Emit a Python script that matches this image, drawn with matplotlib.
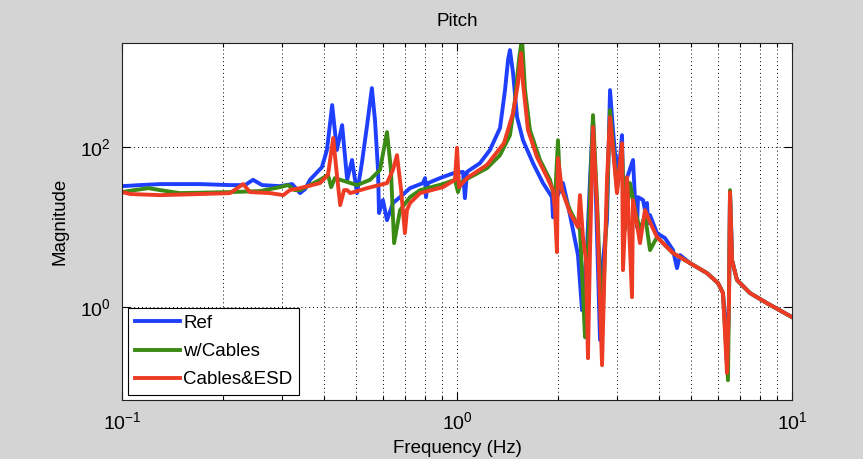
import matplotlib
matplotlib.use("Agg")
import matplotlib.pyplot as plt
from matplotlib.ticker import FixedLocator, LogLocator, NullLocator, NullFormatter

plt.rcParams["font.family"] = ["Liberation Sans", "DejaVu Sans"]

# frequency response magnitudes
ref_freq = [0.100, 0.113, 0.130, 0.171, 0.210, 0.233, 0.246, 0.262, 0.296, 0.322, 0.340, 0.352,
            0.364, 0.395, 0.409, 0.424, 0.438, 0.454, 0.470, 0.486, 0.503, 0.520, 0.539, 0.557,
            0.569, 0.581, 0.585, 0.601, 0.618, 0.644, 0.676, 0.724, 0.792, 0.803, 0.808, 0.819,
            0.890, 0.973, 1.042, 1.056, 1.071, 1.171, 1.254, 1.344, 1.391, 1.420, 1.439, 1.470,
            1.511, 1.574, 1.686, 1.806, 1.921, 1.934, 1.988, 2.072, 2.145, 2.220, 2.297, 2.362,
            2.411, 2.445, 2.495, 2.547, 2.600, 2.673, 2.729, 2.804, 2.863, 2.922, 2.963, 3.045,
            3.109, 3.130, 3.240, 3.353, 3.400, 3.447, 3.470, 3.592, 3.641, 3.692, 3.717, 3.769,
            3.954, 4.178, 4.414, 4.537, 4.632, 4.961, 5.576, 6.014, 6.223, 6.353, 6.397, 6.486,
            6.531, 6.576, 6.622, 6.853, 7.492, 8.423, 10.0]
ref_mag = [32.5, 33.5, 34.5, 34.5, 33.5, 33.5, 39, 33.5, 32.5, 34.5, 26.6, 29.9,
           39, 56, 92, 335, 92, 188, 39, 69, 26.6, 63, 188, 546,
           218, 52, 15.0, 21.8, 12.2, 20.0, 23.7, 30.7, 35.5, 41, 23.7, 35.5,
           41, 47, 49, 23.0, 49, 63, 92, 173, 516, 1223, 1631, 841,
           237, 122, 63, 35.5, 23.7, 13.3, 23.7, 35.5, 18.8, 9.17, 4.47, 0.917,
           2.90, 5.62, 39, 218, 21.8, 0.387, 3.87, 12.2, 516, 163, 84, 52,
           141, 31.6, 45, 69, 21.8, 10.0, 23.7, 21.8, 16.3, 20.0, 11.2, 14.1,
           8.41, 7.29, 5.16, 3.07, 4.47, 3.55, 2.66, 2.0, 1.50, 0.516, 0.188, 1.22,
           27.4, 12.2, 3.87, 2.18, 1.50, 1.12, 0.750]

cab_freq = [0.100, 0.109, 0.120, 0.130, 0.149, 0.210, 0.258, 0.296, 0.313, 0.328, 0.340, 0.390,
            0.412, 0.421, 0.432, 0.503, 0.550, 0.589, 0.618, 0.635, 0.649, 0.676, 0.724, 0.776,
            0.908, 0.986, 1.007, 1.028, 1.229, 1.344, 1.439, 1.490, 1.531, 1.563, 1.596, 1.651,
            1.769, 1.895, 1.961, 2.002, 2.030, 2.175, 2.329, 2.411, 2.460, 2.547, 2.618, 2.710,
            2.804, 2.863, 3.003, 3.109, 3.173, 3.284, 3.400, 3.518, 3.641, 3.769, 3.954, 4.414,
            4.961, 5.576, 6.014, 6.223, 6.44, 6.486, 6.531, 6.622, 6.853, 7.492, 8.423, 10.0]
cab_mag = [27.4, 29.0, 30.7, 29.0, 26.6, 27.4, 28.2, 31.6, 33.5, 29.0, 29.0, 39,
           45, 31.6, 41, 33.5, 39, 52, 154, 52, 6.31, 16.3, 23.7, 29.0,
           34.5, 39, 27.4, 36.5, 54.6, 79.4, 141, 387, 1223, 2300, 516, 163,
           69, 39, 21.8, 122, 33.5, 16.3, 9.17, 0.42, 5.16, 251, 21.8, 0.516,
           21.8, 290, 29.0, 92, 9.17, 35.5, 16.3, 9.17, 14.1, 5.16, 7.50, 4.73,
           3.55, 2.66, 2.0, 1.50, 0.122, 1.22, 29.0, 3.87, 2.18, 1.50, 1.12, 0.750]

esd_freq = [0.100, 0.106, 0.130, 0.171, 0.210, 0.230, 0.241, 0.277, 0.303, 0.317, 0.340, 0.390,
            0.412, 0.427, 0.438, 0.448, 0.460, 0.470, 0.480, 0.539, 0.618, 0.644, 0.662, 0.681,
            0.699, 0.709, 0.724, 0.776, 0.908, 0.986, 1.0, 1.014, 1.071, 1.229, 1.381, 1.470,
            1.521, 1.553, 1.574, 1.629, 1.733, 1.857, 1.934, 1.961, 1.988, 2.002, 2.058,
            2.175, 2.297, 2.329, 2.377, 2.427, 2.460, 2.495, 2.547, 2.618, 2.710, 2.766, 2.804,
            2.863, 3.003, 3.109, 3.130, 3.218, 3.330, 3.353, 3.518, 3.641, 3.769, 3.954, 4.414,
            4.961, 5.576, 6.014, 6.223, 6.397, 6.486, 6.531, 6.622, 6.853, 7.492, 8.423, 10.0]
esd_mag = [27.4, 25.9, 25.1, 25.9, 26.6, 34.5, 27.4, 26.6, 25.1, 29.0, 30.7, 35.5,
           45, 130, 45, 18.8, 29.0, 29.0, 26.6, 30.7, 35.5, 52, 79.4, 29.0,
           8.41, 16.3, 20.0, 26.6, 31.6, 39, 98, 31.6, 41, 60, 112, 265,
           631, 1496, 631, 163, 75, 42, 29.0, 16.3, 4.87, 72.9, 29.0,
           15.0, 10.0, 25.1, 7.50, 3.87, 0.230, 5.16, 178, 17.8, 0.188, 5.16, 39,
           237, 26.6, 112, 2.90, 42, 1.33, 21.8, 6.31, 16.3, 11.5, 7.50, 4.73,
           3.55, 2.66, 2.0, 1.50, 0.150, 1.22, 27.4, 3.87, 2.18, 1.50, 1.12, 0.750]

series = [("Ref", ref_freq, ref_mag, "#1f3fff"),
          ("w/Cables", cab_freq, cab_mag, "#3a8a14"),
          ("Cables&ESD", esd_freq, esd_mag, "#ee3b24")]

fig = plt.figure(figsize=(8.63, 4.59), dpi=100, facecolor="#d4d4d4")
ax = fig.add_axes([0.1414, 0.1285, 0.7763, 0.7778])
ax.set_facecolor("white")

for name, fr, mg, col in series:
    ax.plot(fr, mg, color=col, lw=2.8, label=name)

ax.set_xscale("log")
ax.set_yscale("log")
ax.set_xlim(0.1, 10)
ax.set_ylim(0.069, 2000)

ax.xaxis.set_major_locator(FixedLocator([0.1, 1, 10]))
ax.xaxis.set_minor_locator(LogLocator(base=10, subs=range(2, 10)))
ax.xaxis.set_minor_formatter(NullFormatter())
ax.set_xticklabels([r"$\mathregular{10^{-1}}$", r"$\mathregular{10^{0}}$", r"$\mathregular{10^{1}}$"])
ax.yaxis.set_major_locator(FixedLocator([1, 100]))
ax.yaxis.set_minor_locator(NullLocator())
ax.set_yticklabels([r"$\mathregular{10^{0}}$", r"$\mathregular{10^{2}}$"])

ax.tick_params(which="both", direction="in", top=True, right=True, labelsize=14, pad=8)
ax.tick_params(which="major", length=6, width=0.8)
ax.tick_params(which="minor", length=3, width=0.8)
ax.grid(True, which="major", axis="both", ls=(0, (1, 3)), color="black", lw=0.7)
ax.grid(True, which="minor", axis="x", ls=(0, (1, 3)), color="black", lw=0.7)
for sp in ax.spines.values():
    sp.set_color("#222222")

ax.set_title("Pitch", fontsize=13.5, pad=12)
ax.set_xlabel("Frequency (Hz)", fontsize=13.5, labelpad=5)
ax.set_ylabel("Magnitude", fontsize=13.5, labelpad=8)

leg = ax.legend(loc="lower left", bbox_to_anchor=(0.009, 0.014), borderaxespad=0,
                fontsize=13.5, fancybox=False, edgecolor="black", framealpha=1,
                handlelength=2.4, handletextpad=0.2, labelspacing=0.6, borderpad=0.35)
leg.get_frame().set_linewidth(0.8)

fig.savefig("out.png", dpi=100, facecolor=fig.get_facecolor())
